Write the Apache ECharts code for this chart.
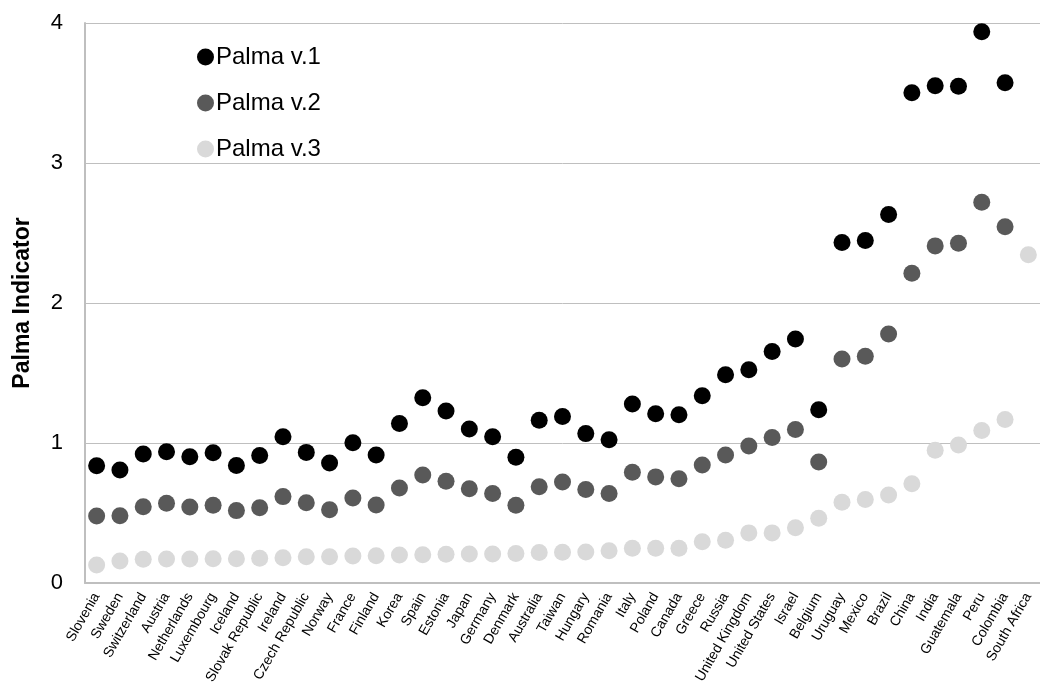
<!DOCTYPE html>
<html>
<head>
<meta charset="utf-8">
<script src="https://cdn.jsdelivr.net/npm/echarts@6/dist/echarts.min.js"></script>
<style>html,body{margin:0;padding:0;background:#fff;}#c{width:1040px;height:700px;}</style>
</head>
<body>
<div id="c"></div>
<script>
const categories = ["Slovenia","Sweden","Switzerland","Austria","Netherlands","Luxembourg","Iceland","Slovak Republic","Ireland","Czech Republic","Norway","France","Finland","Korea","Spain","Estonia","Japan","Germany","Denmark","Australia","Taiwan","Hungary","Romania","Italy","Poland","Canada","Greece","Russia","United Kingdom","United States","Israel","Belgium","Uruguay","Mexico","Brazil","China","India","Guatemala","Peru","Colombia","South Africa"];
const palmaV1 = [0.838,0.807,0.921,0.938,0.902,0.931,0.840,0.910,1.045,0.933,0.857,1.002,0.914,1.140,1.324,1.229,1.100,1.045,0.898,1.163,1.190,1.067,1.023,1.278,1.209,1.201,1.338,1.488,1.524,1.653,1.743,1.237,2.432,2.446,2.632,3.502,3.551,3.549,3.937,3.573,null];
const palmaV2 = [0.479,0.481,0.545,0.569,0.543,0.555,0.517,0.538,0.617,0.574,0.524,0.607,0.557,0.679,0.771,0.726,0.674,0.640,0.555,0.687,0.722,0.668,0.640,0.791,0.758,0.744,0.843,0.914,0.979,1.040,1.097,0.865,1.600,1.620,1.778,2.213,2.408,2.427,2.720,2.544,null];
const palmaV3 = [0.129,0.157,0.169,0.171,0.171,0.174,0.174,0.176,0.181,0.188,0.188,0.193,0.195,0.200,0.202,0.205,0.207,0.207,0.210,0.218,0.219,0.222,0.230,0.249,0.249,0.249,0.295,0.306,0.358,0.358,0.394,0.462,0.577,0.596,0.629,0.709,0.949,0.985,1.089,1.168,2.345];
const yTicks = [0,1,2,3,4];

const chart = echarts.init(document.getElementById('c'), null, {renderer:'canvas'});
const font = '"Liberation Sans", Arial, sans-serif';
const mk = (name, data, color) => ({
  name, type:'scatter', data, symbol:'circle', symbolSize:17,
  itemStyle:{color:color, opacity:1}, z: 2
});
chart.setOption({
  animation:false,
  backgroundColor:'#fff',
  textStyle:{fontFamily:font},
  grid:{left:85, top:23, bottom:117, width:963, containLabel:false},
  legend:{
    orient:'vertical', left:192, top:38, itemGap:18,
    icon:'circle', itemWidth:17, itemHeight:17,
    itemStyle:{opacity:1},
    textStyle:{fontSize:24, lineHeight:28, color:'#000', fontFamily:font, padding:[0,0,0,-3]},
    data:['Palma v.1','Palma v.2','Palma v.3']
  },
  xAxis:{
    type:'category', data:categories, boundaryGap:true,
    axisLine:{show:true, lineStyle:{color:'#bfbfbf', width:2}},
    axisTick:{show:false},
    axisLabel:{interval:0, rotate:60, fontSize:14, color:'#000', margin:11, fontFamily:font},
    splitLine:{show:false}
  },
  yAxis:{
    type:'value', min:yTicks[0], max:yTicks[yTicks.length-1], interval:1,
    name:'Palma Indicator', nameLocation:'middle', nameGap:51,
    nameTextStyle:{fontSize:23, fontWeight:'bold', color:'#000', fontFamily:font},
    axisLine:{show:true, lineStyle:{color:'#bfbfbf', width:2}},
    axisTick:{show:false},
    axisLabel:{fontSize:22, color:'#000', margin:22, fontFamily:font},
    splitLine:{show:true, lineStyle:{color:'#bfbfbf', width:1}}
  },
  series:[
    mk('Palma v.3', palmaV3, '#d9d9d9'),
    mk('Palma v.2', palmaV2, '#595959'),
    mk('Palma v.1', palmaV1, '#000000')
  ]
});
</script>
</body>
</html>
